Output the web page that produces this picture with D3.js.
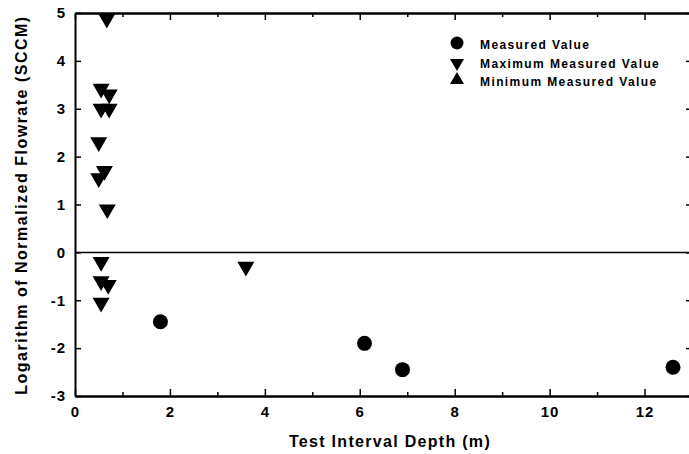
<!DOCTYPE html>
<html>
<head>
<meta charset="utf-8">
<script src="https://cdn.jsdelivr.net/npm/d3@7.9.0/dist/d3.min.js"></script>
<style>
  body { margin: 0; background: #fff; }
  svg { display: block; font-family: "Liberation Sans", Arial, sans-serif; font-weight: bold; }
</style>
</head>
<body>
<div id="chart"></div>
<script>
// ---------------------- Data ----------------------
const measuredDepth = [1.8, 6.1, 6.9, 12.6];
const measuredLog = [-1.45, -1.9, -2.45, -2.4];

const maxDepth = [0.67, 0.55, 0.72, 0.55, 0.72, 0.5, 0.62, 0.5, 0.68, 0.55, 0.55, 0.7, 0.55, 3.6];
const maxLog = [4.88, 3.42, 3.3, 3.0, 3.0, 2.3, 1.7, 1.55, 0.9, -0.2, -0.6, -0.68, -1.05, -0.3];

const xMajorTicks = [0, 2, 4, 6, 8, 10, 12];
const xMinorTicks = [1, 3, 5, 7, 9, 11];
const yTicks = [-3, -2, -1, 0, 1, 2, 3, 4, 5];

const legendLabels = ['Measured Value', 'Maximum Measured Value', 'Minimum Measured Value'];

// ---------------------- Layout ----------------------
const width = 689;
const height = 454;
const plot = { left: 75, top: 13, bottom: 396 };

const svg = d3.select('#chart')
  .append('svg')
  .attr('width', width)
  .attr('height', height);

const x = d3.scaleLinear().domain([0, 13]).range([plot.left, 692]);
const y = d3.scaleLinear().domain([-3, 5]).range([plot.bottom, plot.top]);

// ---------------------- Axes ----------------------
function styleAxis(g, fontSize) {
  g.select('.domain').attr('stroke', '#000').attr('stroke-width', 2);
  g.selectAll('.tick line').attr('stroke', '#000').attr('stroke-width', 1.5);
  g.selectAll('.tick text')
    .attr('fill', '#000')
    .style('font-size', fontSize + 'px')
    .style('font-weight', 'bold')
    .style('letter-spacing', '1px')
    .attr('font-family', null);
}

// bottom
svg.append('g')
  .attr('transform', `translate(0,${plot.bottom})`)
  .call(d3.axisBottom(x).tickValues(xMajorTicks).tickSizeInner(-7).tickSizeOuter(0)
    .tickPadding(10).tickFormat(d => String(d)))
  .call(g => styleAxis(g, 15));

svg.append('g')
  .attr('transform', `translate(0,${plot.bottom})`)
  .call(d3.axisBottom(x).tickValues(xMinorTicks).tickSizeInner(-4).tickSizeOuter(0).tickFormat(''))
  .call(g => styleAxis(g, 15));

// top
svg.append('g')
  .attr('transform', `translate(0,${plot.top})`)
  .call(d3.axisTop(x).tickValues(xMajorTicks).tickSizeInner(-7).tickSizeOuter(0).tickFormat(''))
  .call(g => styleAxis(g, 15));

svg.append('g')
  .attr('transform', `translate(0,${plot.top})`)
  .call(d3.axisTop(x).tickValues(xMinorTicks).tickSizeInner(-4).tickSizeOuter(0).tickFormat(''))
  .call(g => styleAxis(g, 15));

// left
svg.append('g')
  .attr('transform', `translate(${plot.left},0)`)
  .call(d3.axisLeft(y).tickValues(yTicks).tickSizeInner(-6).tickSizeOuter(0)
    .tickPadding(9).tickFormat(d => String(d)))
  .call(g => styleAxis(g, 15));

// right (axis line falls just outside the picture)
svg.append('g')
  .attr('transform', `translate(${x(13)},0)`)
  .call(d3.axisRight(y).tickValues(yTicks).tickSizeInner(-6).tickSizeOuter(0).tickFormat(''))
  .call(g => styleAxis(g, 15));

// zero line
svg.append('line')
  .attr('x1', x(0)).attr('x2', x(13))
  .attr('y1', y(0)).attr('y2', y(0))
  .attr('stroke', '#000')
  .attr('stroke-width', 1.5);

// ---------------------- Titles ----------------------
svg.append('text')
  .attr('x', 390)
  .attr('y', 447)
  .attr('text-anchor', 'middle')
  .style('font-size', '16px')
  .style('letter-spacing', '1.3px')
  .text('Test Interval Depth (m)');

svg.append('text')
  .attr('transform', 'translate(27,205) rotate(-90)')
  .attr('text-anchor', 'middle')
  .style('font-size', '16px')
  .style('letter-spacing', '1.5px')
  .text('Logarithm of Normalized Flowrate (SCCM)');

// ---------------------- Marks ----------------------
const tri = d3.symbol().type(d3.symbolTriangle).size(125);

svg.append('g')
  .selectAll('path')
  .data(d3.zip(maxDepth, maxLog))
  .join('path')
  .attr('d', tri)
  .attr('transform', d => `translate(${x(d[0])},${y(d[1])}) rotate(180)`)
  .attr('fill', '#000');

svg.append('g')
  .selectAll('circle')
  .data(d3.zip(measuredDepth, measuredLog))
  .join('circle')
  .attr('cx', d => x(d[0]))
  .attr('cy', d => y(d[1]))
  .attr('r', 7.5)
  .attr('fill', '#000');

// ---------------------- Legend ----------------------
const legend = svg.append('g').attr('transform', 'translate(457,0)');
const legendY = [43, 63, 80];
const legTri = d3.symbol().type(d3.symbolTriangle).size(85);

legend.append('circle').attr('cx', 0).attr('cy', legendY[0]).attr('r', 6.5).attr('fill', '#000');
legend.append('path').attr('d', legTri).attr('transform', `translate(0,${legendY[1]}) rotate(180)`).attr('fill', '#000');
legend.append('path').attr('d', legTri).attr('transform', `translate(0,${legendY[2]})`).attr('fill', '#000');

legend.selectAll('text')
  .data(legendLabels)
  .join('text')
  .attr('x', 23)
  .attr('y', (d, i) => [49, 68, 86][i])
  .style('font-size', '12px')
  .style('letter-spacing', '1.4px')
  .text(d => d);
</script>
</body>
</html>
